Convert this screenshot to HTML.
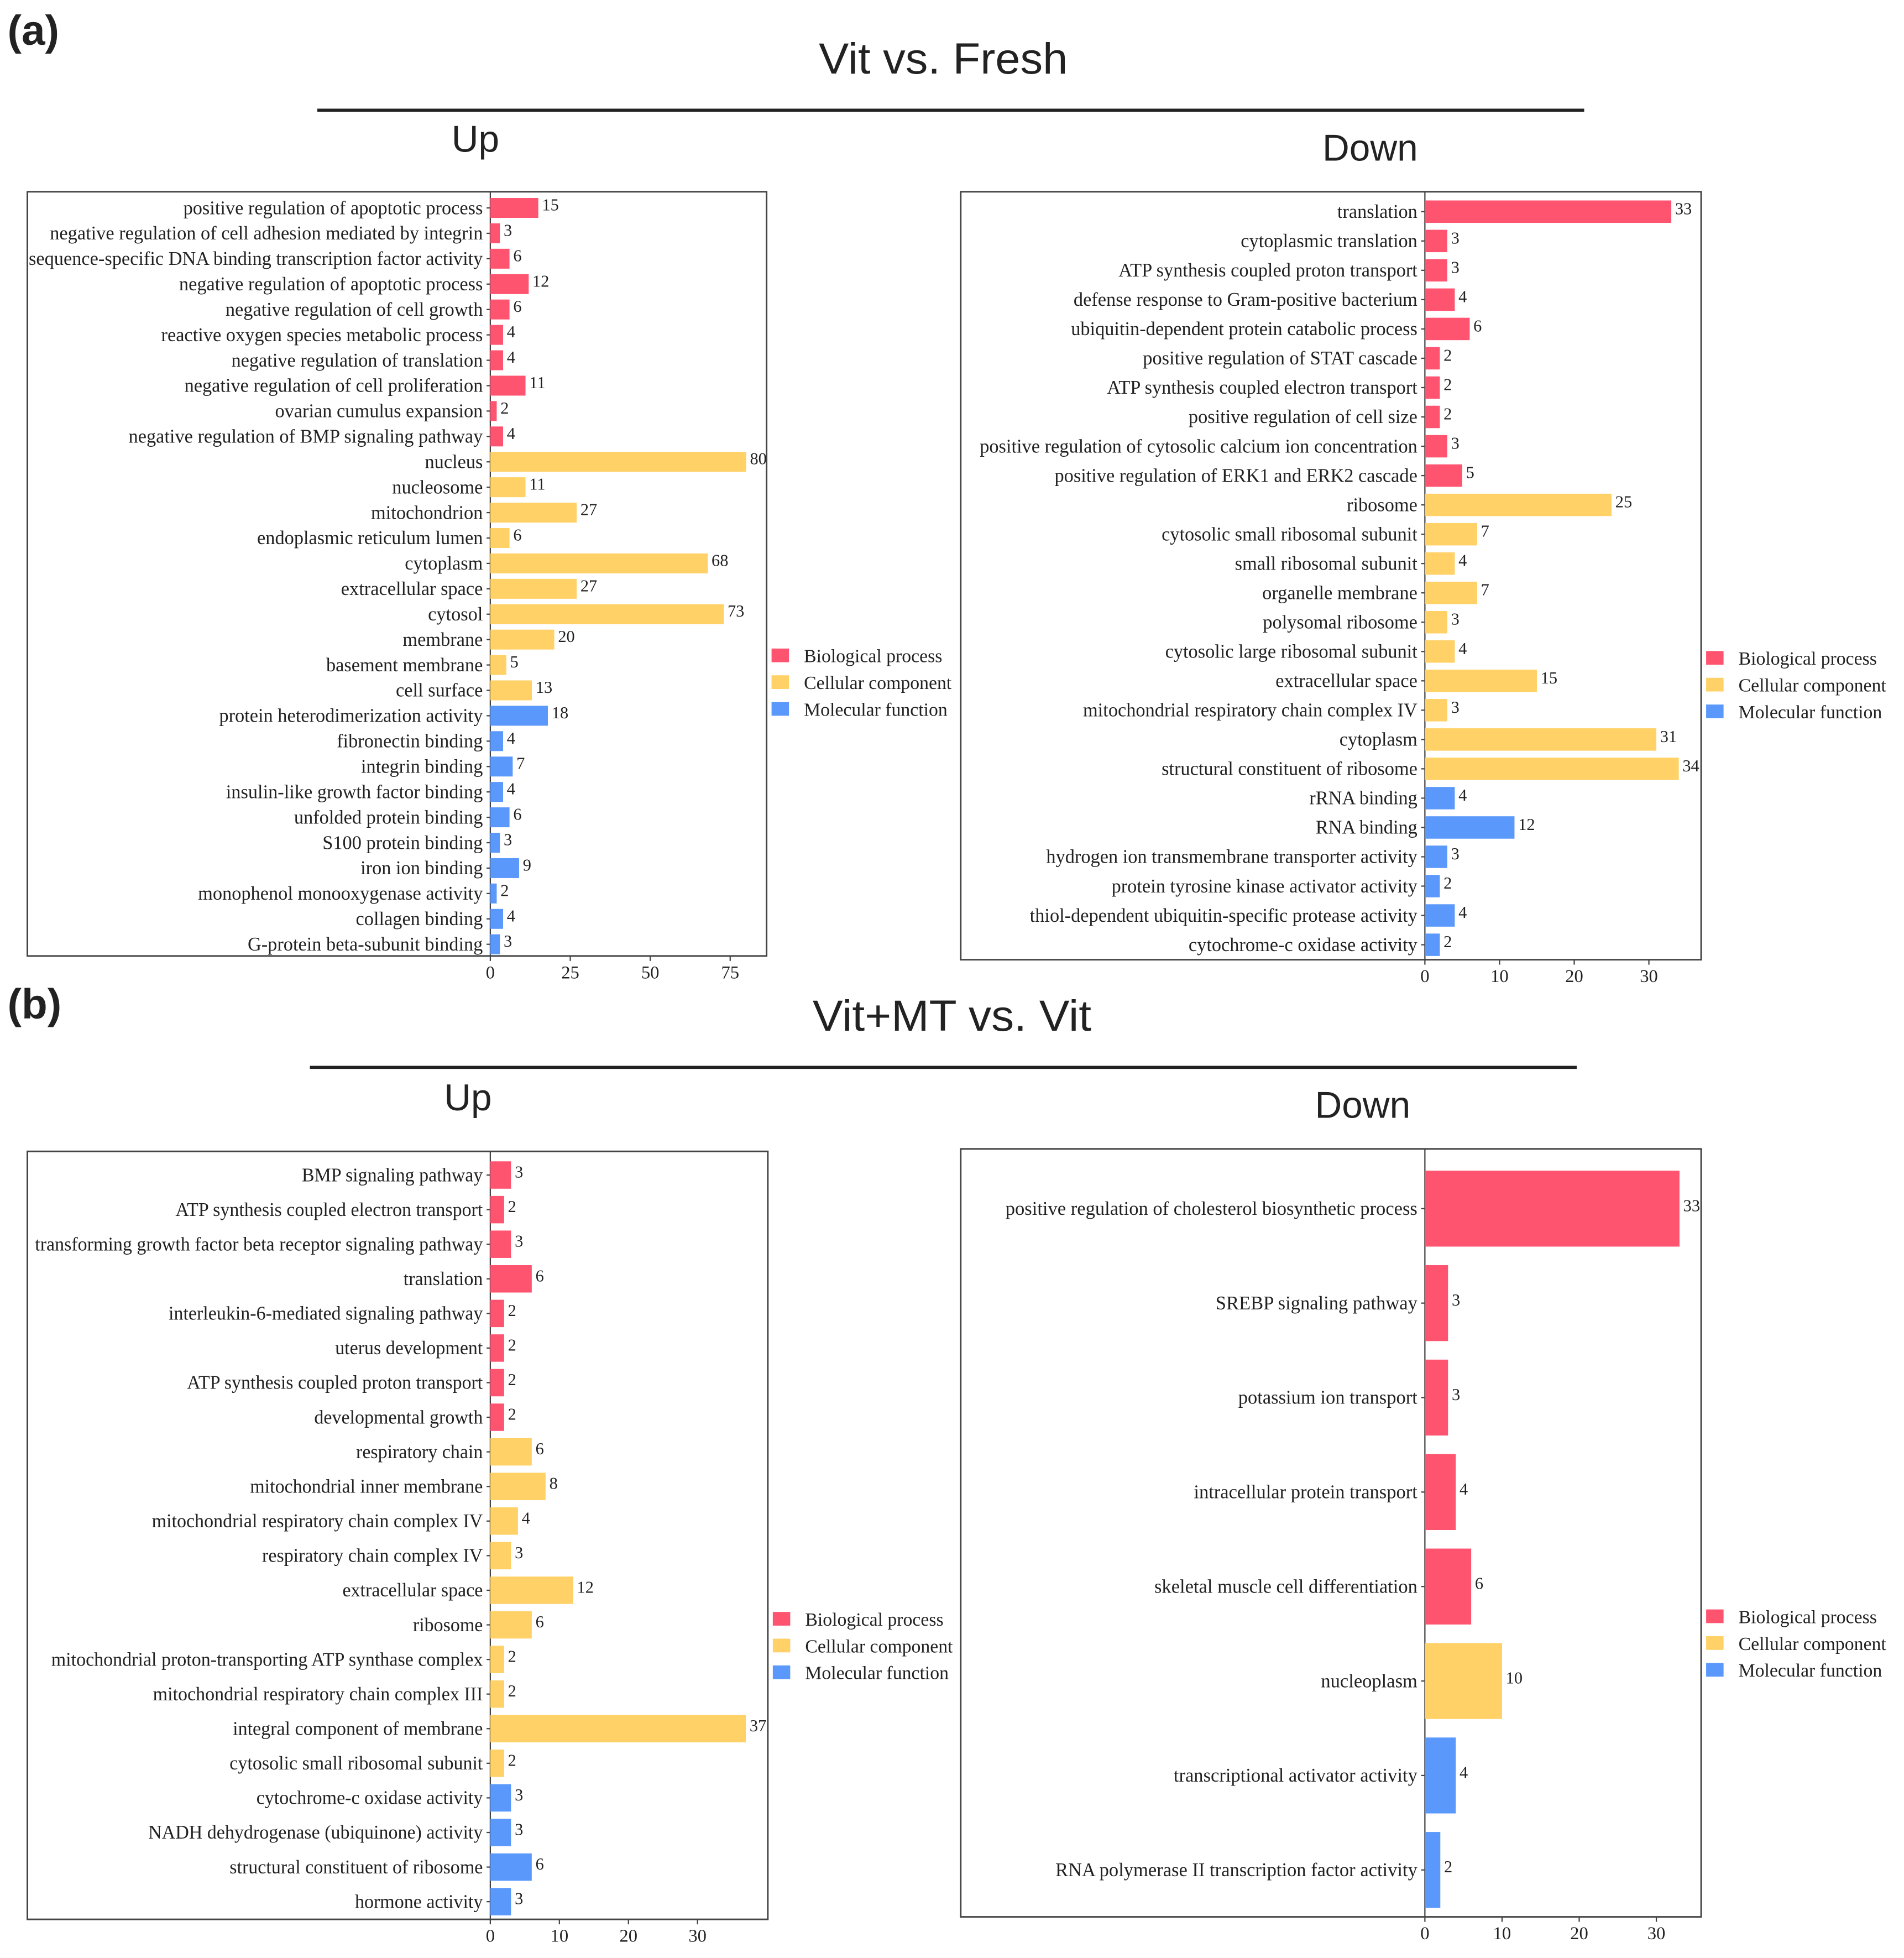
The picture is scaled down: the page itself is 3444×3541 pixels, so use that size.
<!DOCTYPE html>
<html><head><meta charset="utf-8">
<style>
html,body{margin:0;padding:0;background:#fff;}
svg{display:block;}
text{font-family:"Liberation Serif",serif;fill:#222;}
.sans{font-family:"Liberation Sans",sans-serif;}
</style></head>
<body>
<svg id="fig" xmlns="http://www.w3.org/2000/svg" width="3444" height="3541" viewBox="0 0 1530 1573">
  <text class="sans" x="6" y="36" font-size="34" font-weight="bold">(a)</text>
  <text class="sans" x="758" y="59" font-size="35" text-anchor="middle" textLength="200" lengthAdjust="spacingAndGlyphs">Vit vs. Fresh</text>
  <line x1="255" y1="88.5" x2="1273" y2="88.5" stroke="#222" stroke-width="2.5"/>
  <text class="sans" x="382" y="122" font-size="30" text-anchor="middle">Up</text>
  <text class="sans" x="1101" y="129" font-size="30" text-anchor="middle">Down</text>
  <text class="sans" x="6" y="818" font-size="34" font-weight="bold">(b)</text>
  <text class="sans" x="765" y="828" font-size="35" text-anchor="middle" textLength="224" lengthAdjust="spacingAndGlyphs">Vit+MT vs. Vit</text>
  <line x1="249" y1="857.5" x2="1267" y2="857.5" stroke="#222" stroke-width="2.5"/>
  <text class="sans" x="376" y="892" font-size="30" text-anchor="middle">Up</text>
  <text class="sans" x="1095" y="898" font-size="30" text-anchor="middle">Down</text>
</svg>
<script>
// ---- data ----
const aUpTerms = ["positive regulation of apoptotic process","negative regulation of cell adhesion mediated by integrin","sequence-specific DNA binding transcription factor activity","negative regulation of apoptotic process","negative regulation of cell growth","reactive oxygen species metabolic process","negative regulation of translation","negative regulation of cell proliferation","ovarian cumulus expansion","negative regulation of BMP signaling pathway","nucleus","nucleosome","mitochondrion","endoplasmic reticulum lumen","cytoplasm","extracellular space","cytosol","membrane","basement membrane","cell surface","protein heterodimerization activity","fibronectin binding","integrin binding","insulin-like growth factor binding","unfolded protein binding","S100 protein binding","iron ion binding","monophenol monooxygenase activity","collagen binding","G-protein beta-subunit binding"];
const aUpValues = [15,3,6,12,6,4,4,11,2,4,80,11,27,6,68,27,73,20,5,13,18,4,7,4,6,3,9,2,4,3];
const aUpGroups = "BBBBBBBBBBCCCCCCCCCCMMMMMMMMMM";
const aUpTicks = [0,25,50,75];

const aDownTerms = ["translation","cytoplasmic translation","ATP synthesis coupled proton transport","defense response to Gram-positive bacterium","ubiquitin-dependent protein catabolic process","positive regulation of STAT cascade","ATP synthesis coupled electron transport","positive regulation of cell size","positive regulation of cytosolic calcium ion concentration","positive regulation of ERK1 and ERK2 cascade","ribosome","cytosolic small ribosomal subunit","small ribosomal subunit","organelle membrane","polysomal ribosome","cytosolic large ribosomal subunit","extracellular space","mitochondrial respiratory chain complex IV","cytoplasm","structural constituent of ribosome","rRNA binding","RNA binding","hydrogen ion transmembrane transporter activity","protein tyrosine kinase activator activity","thiol-dependent ubiquitin-specific protease activity","cytochrome-c oxidase activity"];
const aDownValues = [33,3,3,4,6,2,2,2,3,5,25,7,4,7,3,4,15,3,31,34,4,12,3,2,4,2];
const aDownGroups = "BBBBBBBBBBCCCCCCCCCCMMMMMM";
const aDownTicks = [0,10,20,30];

const bUpTerms = ["BMP signaling pathway","ATP synthesis coupled electron transport","transforming growth factor beta receptor signaling pathway","translation","interleukin-6-mediated signaling pathway","uterus development","ATP synthesis coupled proton transport","developmental growth","respiratory chain","mitochondrial inner membrane","mitochondrial respiratory chain complex IV","respiratory chain complex IV","extracellular space","ribosome","mitochondrial proton-transporting ATP synthase complex","mitochondrial respiratory chain complex III","integral component of membrane","cytosolic small ribosomal subunit","cytochrome-c oxidase activity","NADH dehydrogenase (ubiquinone) activity","structural constituent of ribosome","hormone activity"];
const bUpValues = [3,2,3,6,2,2,2,2,6,8,4,3,12,6,2,2,37,2,3,3,6,3];
const bUpGroups = "BBBBBBBBCCCCCCCCCCMMMM";
const bUpTicks = [0,10,20,30];

const bDownTerms = ["positive regulation of cholesterol biosynthetic process","SREBP signaling pathway","potassium ion transport","intracellular protein transport","skeletal muscle cell differentiation","nucleoplasm","transcriptional activator activity","RNA polymerase II transcription factor activity"];
const bDownValues = [33,3,3,4,6,10,4,2];
const bDownGroups = "BBBBBCMM";
const bDownTicks = [0,10,20,30];

const legendLabels = ["Biological process","Cellular component","Molecular function"];
const COLORS = {B:"#ff5470",C:"#ffd166",M:"#5b98fb"};

// ---- layout (not data) ----
const panels = [
 {id:"a-up",terms:aUpTerms,vals:aUpValues,groups:aUpGroups,ticks:aUpTicks,box:[22,154,616,768],x0:394,ppu:2.57,y0:167,step:20.4,bh:16,leg:[620,527],cond:0.985},
 {id:"a-down",terms:aDownTerms,vals:aDownValues,groups:aDownGroups,ticks:aDownTicks,box:[772,154,1367,771],x0:1145,ppu:6.0,y0:170,step:23.56,bh:18,leg:[1371,529],cond:0.985},
 {id:"b-up",terms:bUpTerms,vals:bUpValues,groups:bUpGroups,ticks:bUpTicks,box:[22,925,617,1542],x0:394,ppu:5.55,y0:944,step:27.8,bh:22,leg:[621,1301],cond:0.975},
 {id:"b-down",terms:bDownTerms,vals:bDownValues,groups:bDownGroups,ticks:bDownTicks,box:[772,923,1367,1540],x0:1145,ppu:6.2,y0:971,step:75.9,bh:61,leg:[1371,1299],cond:0.99}
];
const NS="http://www.w3.org/2000/svg";
const svg=document.getElementById("fig");
function mk(tag,attrs,parent){const e=document.createElementNS(NS,tag);for(const k in attrs)e.setAttribute(k,attrs[k]);(parent||svg).appendChild(e);return e;}

panels.forEach(p=>{
  const g=mk("g",{});
  
  
  const [l,t,r,b]=p.box;
  const xs=v=>p.x0+v*p.ppu;
  const ys=i=>p.y0+i*p.step;
  const frame=mk("rect",{x:l,y:t,width:r-l,height:b-t,fill:"none",stroke:"#444","stroke-width":1.3},g);
  
  
  const ax=mk("line",{x1:p.x0,y1:t,x2:p.x0,y2:b,stroke:"#444","stroke-width":1},g);
  
  
  p.terms.forEach((term,i)=>{
    const y=ys(i), v=p.vals[i];
    const bar=mk("rect",{x:p.x0,y:y-p.bh/2,width:xs(v)-p.x0,height:p.bh,fill:COLORS[p.groups[i]]},g);
    
    
    mk("line",{x1:p.x0-3,y1:y,x2:p.x0,y2:y,stroke:"#444","stroke-width":1},g);
    const lab=mk("text",{x:p.x0-6,y:y+5,"font-size":15.5,"text-anchor":"end"},g);
    lab.textContent=term;
    
    
    const w=lab.getComputedTextLength();
    if(w>0){lab.setAttribute("textLength",(w*p.cond).toFixed(1));lab.setAttribute("lengthAdjust","spacingAndGlyphs");}
    const val=mk("text",{x:xs(v)+3,y:y+2,"font-size":13.5},g);
    val.textContent=String(v);
    
    
  });
  p.ticks.forEach(tk=>{
    const x=xs(tk);
    mk("line",{x1:x,y1:b,x2:x,y2:b+4,stroke:"#444","stroke-width":1},g);
    const tl=mk("text",{x:x,y:b+18,"font-size":14.5,"text-anchor":"middle"},g);
    tl.textContent=String(tk);
    
    
  });
  const lg=mk("g",{},g);
  
  
  ["B","C","M"].forEach((k,j)=>{
    const y=p.leg[1]+j*21.5;
    const sw=mk("rect",{x:p.leg[0],y:y-6,width:14,height:11,fill:COLORS[k]},lg);
    
    
    const lt=mk("text",{x:p.leg[0]+26,y:y+5,"font-size":15},lg);
    lt.textContent=legendLabels[j];
    
    
  });
});
</script>
</body></html>
